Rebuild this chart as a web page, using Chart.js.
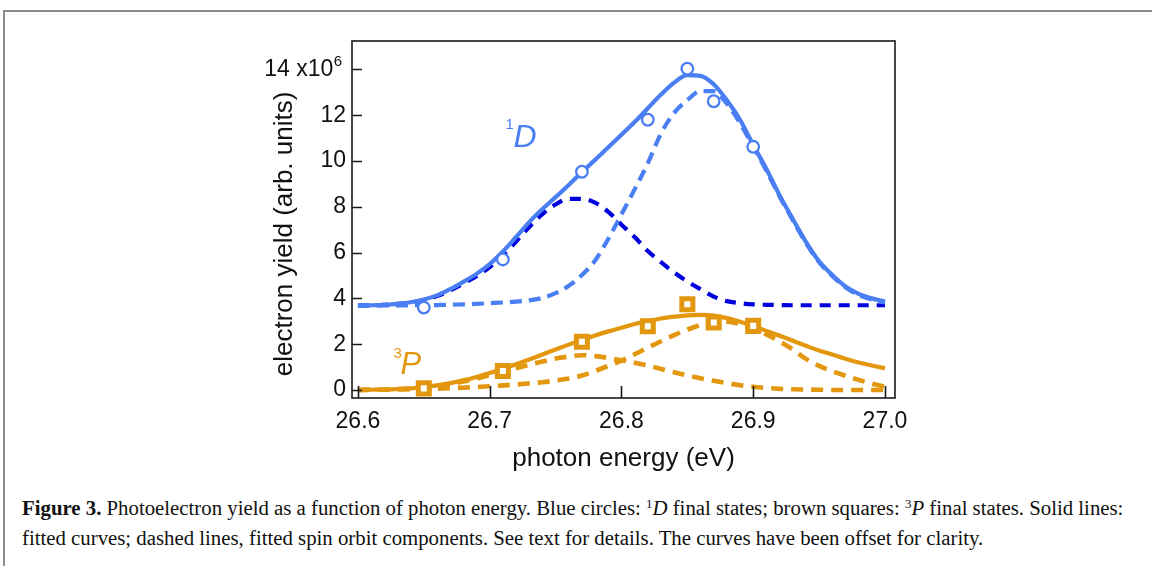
<!DOCTYPE html>
<html><head><meta charset="utf-8">
<script src="https://cdn.jsdelivr.net/npm/chart.js@4.4.0/dist/chart.umd.min.js"></script>
<style>
html,body{margin:0;padding:0;background:#fff;}
body{width:1152px;height:566px;position:relative;overflow:hidden;}
#frame{position:absolute;left:3px;top:10px;width:1170px;height:600px;border-top:2px solid #8c8c8c;border-left:2px solid #8c8c8c;}
#wrap{position:absolute;left:0;top:0;width:1152px;height:480px;}
#cap{position:absolute;left:22px;top:493px;font-family:'Liberation Serif','DejaVu Serif',serif;font-size:20.8px;line-height:30px;color:#111;white-space:nowrap;}
#cap sup{font-size:13px;line-height:0;vertical-align:7px;}
</style></head>
<body>
<div id="frame"></div>
<div id="wrap"><canvas id="c" width="1152" height="480"></canvas></div>
<div id="cap"><b>Figure 3.</b> Photoelectron yield as a function of photon energy. Blue circles: <sup>1</sup><i>D</i> final states; brown squares: <sup>3</sup><i>P</i> final states. Solid lines:<br>fitted curves; dashed lines, fitted spin orbit components. See text for details. The curves have been offset for clarity.</div>
<script>
// ---- data ----
const energyPts = [26.65, 26.71, 26.77, 26.82, 26.85, 26.87, 26.90];
const yield1D = [3.60, 5.70, 9.53, 11.80, 14.03, 12.61, 10.62];
const yield3P = [0.07, 0.83, 2.11, 2.78, 3.74, 2.95, 2.80];

const energyFit = [26.60,26.61,26.62,26.63,26.64,26.65,26.66,26.67,26.68,26.69,26.70,26.71,26.72,26.73,26.74,26.75,26.76,26.77,26.78,26.79,26.80,26.81,26.82,26.83,26.84,26.85,26.86,26.87,26.88,26.89,26.90,26.91,26.92,26.93,26.94,26.95,26.96,26.97,26.98,26.99,27.00];
const fit1D = [3.69,3.70,3.72,3.76,3.83,3.95,4.13,4.40,4.72,5.07,5.50,6.05,6.68,7.33,7.90,8.42,8.95,9.52,10.05,10.60,11.15,11.70,12.30,12.90,13.42,13.75,13.72,13.35,12.65,11.80,10.70,9.65,8.50,7.47,6.47,5.62,5.02,4.52,4.20,4.00,3.86];
const comp1D_a = [3.69,3.70,3.72,3.76,3.82,3.93,4.10,4.35,4.65,4.97,5.37,5.88,6.48,7.12,7.68,8.10,8.35,8.35,8.18,7.78,7.22,6.68,6.07,5.58,5.13,4.74,4.40,4.08,3.88,3.79,3.74,3.72,3.71,3.70,3.70,3.70,3.70,3.70,3.70,3.70,3.70];
const comp1D_b = [3.69,3.69,3.69,3.69,3.70,3.70,3.71,3.72,3.74,3.76,3.79,3.82,3.86,3.91,4.02,4.23,4.55,5.02,5.65,6.60,7.67,8.76,9.90,11.20,12.10,12.66,13.05,13.05,12.50,11.65,10.62,9.58,8.45,7.42,6.42,5.58,4.98,4.48,4.15,3.95,3.82];
const fit3P = [0.00,0.01,0.02,0.04,0.07,0.12,0.20,0.30,0.42,0.57,0.74,0.92,1.12,1.33,1.55,1.77,1.98,2.18,2.38,2.56,2.72,2.88,3.00,3.12,3.20,3.26,3.28,3.25,3.14,2.98,2.80,2.58,2.37,2.15,1.93,1.72,1.55,1.36,1.20,1.07,0.95];
const comp3P_a = [0.00,0.01,0.02,0.04,0.07,0.11,0.17,0.26,0.37,0.50,0.64,0.79,0.95,1.10,1.24,1.37,1.46,1.52,1.48,1.40,1.30,1.19,1.07,0.92,0.77,0.63,0.51,0.40,0.30,0.21,0.14,0.09,0.05,0.03,0.02,0.01,0.00,0.00,0.00,0.00,0.00];
const comp3P_b = [0.00,0.01,0.01,0.02,0.03,0.04,0.06,0.08,0.10,0.13,0.16,0.20,0.24,0.29,0.34,0.41,0.50,0.63,0.83,1.05,1.28,1.56,1.85,2.13,2.40,2.64,2.84,2.97,2.98,2.88,2.68,2.43,2.12,1.77,1.36,1.05,0.82,0.62,0.44,0.28,0.14];

const xTicks = [26.6, 26.7, 26.8, 26.9, 27.0];
const yTicks = [0, 2, 4, 6, 8, 10, 12, 14];

// ---- styling ----
const LIGHT = '#4a7ef3';
const DARK = '#0000de';
const ORANGE = '#e3970f';
const FONT = "'Liberation Sans', Arial, sans-serif";

const pts = (xs, ys) => xs.map((x, i) => ({x: x, y: ys[i]}));
const lineDs = (ys, color, dash, w) => ({
  data: pts(energyFit, ys), borderColor: color, borderWidth: w || 4.2, borderDash: dash || [],
  borderCapStyle: 'butt', pointRadius: 0, cubicInterpolationMode: 'monotone', fill: false
});

const frame = {
  id: 'frame',
  afterDatasetsDraw(chart) {
    const {ctx, chartArea: a, scales: {x, y}} = chart;
    ctx.save();
    ctx.strokeStyle = '#1a1a1a';
    ctx.lineWidth = 1.6;
    ctx.strokeRect(a.left, a.top, a.right - a.left, a.bottom - a.top);
    ctx.beginPath();
    x.ticks.forEach(t => { const p = Math.round(x.getPixelForValue(t.value)) + 0.5; ctx.moveTo(p, a.bottom); ctx.lineTo(p, a.bottom - 12); });
    y.ticks.forEach(t => { const p = Math.round(y.getPixelForValue(t.value)) + 0.5; ctx.moveTo(a.left, p); ctx.lineTo(a.left + 10, p); });
    ctx.stroke();
    // exponent of the top tick label
    ctx.fillStyle = '#111';
    ctx.font = '15px ' + FONT;
    ctx.textAlign = 'right';
    ctx.textBaseline = 'alphabetic';
    ctx.fillText('6', a.left - 10, y.getPixelForValue(14) - 3);
    // series labels
    ctx.textAlign = 'left';
    let px = x.getPixelForValue(26.712), py = y.getPixelForValue(10.63);
    ctx.fillStyle = LIGHT;
    ctx.font = '15px ' + FONT;
    ctx.fillText('1', px, py - 18);
    ctx.font = 'italic 32px ' + FONT;
    ctx.fillText('D', px + 8, py);
    px = x.getPixelForValue(26.627); py = y.getPixelForValue(0.70);
    ctx.fillStyle = ORANGE;
    ctx.font = '15px ' + FONT;
    ctx.fillText('3', px, py - 16);
    ctx.font = 'italic 31px ' + FONT;
    ctx.fillText('P', px + 7, py);
    ctx.restore();
  }
};

new Chart(document.getElementById('c'), {
  type: 'line',
  data: {
    datasets: [
      {data: pts(energyPts, yield1D), showLine: false, pointStyle: 'circle', pointRadius: 5.8,
       pointBorderWidth: 2.3, borderColor: LIGHT, backgroundColor: '#fff', pointBackgroundColor: '#fff', pointBorderColor: LIGHT},
      {data: pts(energyPts, yield3P), showLine: false, pointStyle: 'rect', pointRadius: 7.8,
       pointBorderWidth: 5, borderColor: ORANGE, backgroundColor: '#fff', pointBackgroundColor: '#fff', pointBorderColor: ORANGE},
      lineDs(fit1D, LIGHT),
      lineDs(comp1D_b, LIGHT, [12, 7]),
      lineDs(comp1D_a, DARK, [11, 8]),
      lineDs(fit3P, ORANGE),
      lineDs(comp3P_a, ORANGE, [12, 8], 4.6),
      lineDs(comp3P_b, ORANGE, [12, 8], 4.6)
    ]
  },
  options: {
    responsive: false, animation: false,
    layout: {padding: {left: 252, right: 257, top: 41, bottom: 2}, autoPadding: false},
    plugins: {legend: {display: false}, tooltip: {enabled: false}},
    scales: {
      x: {
        type: 'linear', min: 26.5955, max: 27.0076,
        afterBuildTicks: s => { s.ticks = xTicks.map(v => ({value: v})); },
        afterFit: s => { s.height = 80; },
        grid: {display: false, drawTicks: false}, border: {display: false},
        ticks: {font: {size: 23, family: FONT}, color: '#111', padding: 10, maxRotation: 0,
                callback: v => Number(v).toFixed(1)},
        title: {display: true, text: 'photon energy (eV)', font: {size: 26, family: FONT}, color: '#111',
                padding: {top: 0, bottom: 4}}
      },
      y: {
        type: 'linear', min: -0.35, max: 15.24,
        afterBuildTicks: s => { s.ticks = yTicks.map(v => ({value: v})); },
        afterFit: s => { s.width = 100; },
        grid: {display: false, drawTicks: false}, border: {display: false},
        ticks: {font: {size: 23, family: FONT}, color: '#111', padding: 6,
                callback: v => (v === 14 ? '14 x10  ' : String(v))},
        title: {display: true, text: 'electron yield (arb. units)    ', font: {size: 26, family: FONT}, color: '#111',
                padding: {top: 17, bottom: 0}}
      }
    }
  },
  plugins: [frame]
});
</script>
</body></html>
